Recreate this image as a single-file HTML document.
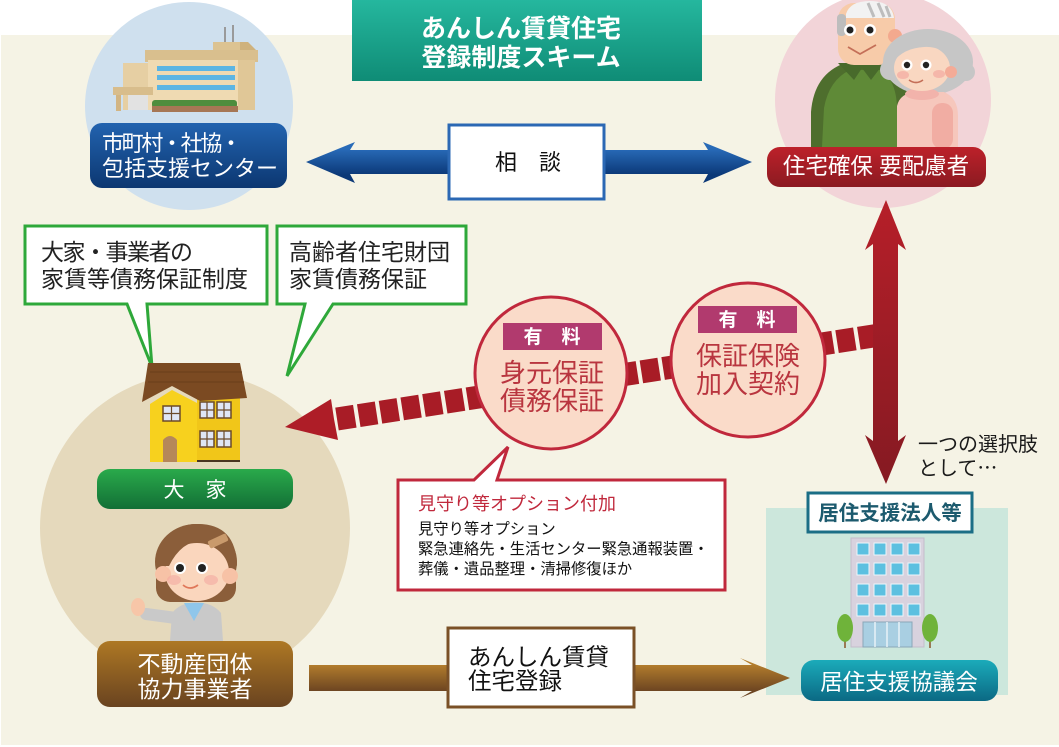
<!DOCTYPE html>
<html><head><meta charset="utf-8">
<style>
html,body{margin:0;padding:0;background:#fff;}
svg{display:block;}
text{font-family:"Liberation Sans","Noto Sans CJK JP",sans-serif;}
</style></head><body>
<svg width="1059" height="747" viewBox="0 0 1059 747" xmlns="http://www.w3.org/2000/svg">
<defs>
 <linearGradient id="gTitle" x1="0" y1="0" x2="0" y2="1"><stop offset="0" stop-color="#25b79e"/><stop offset="1" stop-color="#0f8c76"/></linearGradient>
 <linearGradient id="gBlue" x1="0" y1="0" x2="0" y2="1"><stop offset="0" stop-color="#2263af"/><stop offset="1" stop-color="#0c3771"/></linearGradient>
 <linearGradient id="gRed" x1="0" y1="0" x2="0" y2="1"><stop offset="0" stop-color="#bd212a"/><stop offset="1" stop-color="#8b1a21"/></linearGradient>
 <linearGradient id="gRedV" gradientUnits="userSpaceOnUse" x1="0" y1="200" x2="0" y2="484"><stop offset="0" stop-color="#b61f29"/><stop offset="1" stop-color="#851a22"/></linearGradient>
 <linearGradient id="gGreen" x1="0" y1="0" x2="0" y2="1"><stop offset="0" stop-color="#2aaa4b"/><stop offset="1" stop-color="#126f36"/></linearGradient>
 <linearGradient id="gBrown" x1="0" y1="0" x2="0" y2="1"><stop offset="0" stop-color="#ae7824"/><stop offset="1" stop-color="#694320"/></linearGradient>
 <linearGradient id="gTeal" x1="0" y1="0" x2="0" y2="1"><stop offset="0" stop-color="#1babba"/><stop offset="1" stop-color="#0b6984"/></linearGradient>
 <linearGradient id="gBrownArrow" gradientUnits="userSpaceOnUse" x1="0" y1="664" x2="0" y2="692"><stop offset="0" stop-color="#b47e2d"/><stop offset="1" stop-color="#6a4321"/></linearGradient>
 <linearGradient id="gBlueArrow" gradientUnits="userSpaceOnUse" x1="0" y1="149" x2="0" y2="175"><stop offset="0" stop-color="#286ab7"/><stop offset="1" stop-color="#0b3877"/></linearGradient>
</defs>

<!-- background -->
<rect x="0" y="0" width="1059" height="747" fill="#ffffff"/>
<rect x="1" y="35" width="1058" height="710" fill="#f5f3e5"/>

<!-- top-left blue circle + building -->
<circle cx="189" cy="106" r="104" fill="#cfe0ee"/>
<line x1="225" y1="27" x2="225" y2="43" stroke="#9a9a9a" stroke-width="2"/>
<line x1="233" y1="25" x2="233" y2="43" stroke="#9a9a9a" stroke-width="2"/>
<rect x="213" y="42" width="32" height="20" fill="#dcc392"/>
<polygon points="240,42 248,42 258,52 258,62 240,62" fill="#cfb27d"/>
<rect x="145" y="50" width="113" height="12" fill="#d9bf8e"/>
<rect x="148" y="60" width="92" height="50" fill="#efdab2"/>
<rect x="238" y="60" width="17" height="50" fill="#e0c797"/>
<rect x="157" y="66" width="78" height="5" fill="#5cb5e3"/>
<rect x="157" y="75" width="78" height="5" fill="#5cb5e3"/>
<rect x="157" y="85" width="78" height="5" fill="#5cb5e3"/>
<rect x="123" y="63" width="25" height="47" fill="#e6cfa3"/>
<rect x="113" y="87" width="40" height="8" fill="#d8bd8c"/>
<rect x="116" y="95" width="5" height="16" fill="#d2b583"/>
<rect x="128" y="95" width="20" height="15" fill="#e2e2e2"/>
<rect x="152" y="100" width="85" height="8" rx="3" fill="#4e8d3d"/>
<rect x="152" y="106" width="86" height="6" fill="#a67755"/>

<!-- blue label -->
<rect x="90" y="123" width="197" height="65" rx="12" fill="url(#gBlue)"/>
<text x="102" y="151" font-size="22" fill="#fff" textLength="140" lengthAdjust="spacing">市町村・社協・</text>
<text x="102" y="176" font-size="22" fill="#fff">包括支援センター</text>

<!-- blue double arrow -->
<polygon points="306,162 355,142 350,150 708,150 703,142 752,162 703,183 708,174 350,174 355,183" fill="url(#gBlueArrow)"/>
<rect x="449" y="125" width="155" height="74" fill="#fff" stroke="#2b68b4" stroke-width="3"/>
<text x="528" y="170" font-size="22" fill="#111" text-anchor="middle">相　談</text>

<!-- title -->
<rect x="352" y="0" width="350" height="81" fill="url(#gTitle)"/>
<text x="521" y="37" font-size="25" font-weight="bold" fill="#fff" text-anchor="middle">あんしん賃貸住宅</text>
<text x="521" y="66" font-size="25" font-weight="bold" fill="#fff" text-anchor="middle">登録制度スキーム</text>

<!-- top-right pink circle + couple -->
<circle cx="883" cy="100" r="108" fill="#f2d4d8"/>
<!-- man body -->
<path d="M811,147 L811,112 Q814,74 845,63 L882,62 Q906,70 908,100 L908,147 Z" fill="#4e6e2d"/>
<path d="M822,147 L824,108 Q829,80 850,70 L880,70 Q897,80 897,110 L897,147 Z" fill="#5f8a37"/>
<polygon points="838,63 854,80 862,68 871,80 884,63" fill="#486a2b"/>
<!-- man head -->
<rect x="838" y="3" width="57" height="62" rx="16" fill="#f7cba9"/>
<path d="M846,14 Q850,1 870,1 Q892,1 894,18 L846,18 Z" fill="#f2f2f2"/>
<path d="M868,3 L874,17 M878,3 L884,17 M886,6 L890,17" stroke="#bdbdbd" stroke-width="3"/>
<rect x="837" y="14" width="9" height="22" rx="4" fill="#bdbdbd"/>
<circle cx="895" cy="36" r="7" fill="#f3a98e"/>
<circle cx="850" cy="30" r="6" fill="#fff"/><circle cx="850" cy="30" r="3.5" fill="#222"/>
<circle cx="870" cy="30" r="6" fill="#fff"/><circle cx="870" cy="30" r="3.5" fill="#222"/>
<path d="M848,47 L860,54 L876,45" fill="none" stroke="#c46f58" stroke-width="1.8"/>
<!-- woman -->
<ellipse cx="928" cy="62" rx="45" ry="33" fill="#c6c6c6"/>
<circle cx="890" cy="70" r="10" fill="#c6c6c6"/>
<circle cx="966" cy="72" r="9" fill="#c6c6c6"/>
<path d="M897,147 L897,106 Q900,93 916,92 L944,92 Q958,98 958,116 L958,147 Z" fill="#f6c7bc"/>
<rect x="932" y="103" width="21" height="46" rx="10" fill="#f1ada3"/>
<ellipse cx="922" cy="94" rx="17" ry="6" fill="#f2b3ab"/>
<ellipse cx="922" cy="68" rx="28" ry="23" fill="#f9d7c1"/>
<path d="M893,62 Q897,36 924,35 Q951,36 953,60 Q942,46 924,47 Q904,48 893,62 Z" fill="#c6c6c6"/>
<circle cx="951" cy="72" r="6" fill="#f4ab97"/>
<circle cx="907" cy="65" r="5.5" fill="#fff"/><circle cx="907" cy="65" r="3.2" fill="#222"/>
<circle cx="926" cy="65" r="5.5" fill="#fff"/><circle cx="926" cy="65" r="3.2" fill="#222"/>
<ellipse cx="903" cy="75" rx="6" ry="4" fill="#f3aaa0" opacity="0.7"/>
<ellipse cx="939" cy="74" rx="6" ry="4" fill="#f3aaa0" opacity="0.7"/>
<path d="M909,80 Q916,85 923,80" fill="none" stroke="#c46f58" stroke-width="1.6"/>

<!-- red label -->
<rect x="767" y="147" width="219" height="40" rx="13" fill="url(#gRed)"/>
<text x="876" y="174" font-size="22.5" fill="#fff" text-anchor="middle">住宅確保 要配慮者</text>

<!-- big beige circle (left) -->
<circle cx="195" cy="528" r="155" fill="#e5d9bc"/>

<!-- green callouts -->
<path d="M25,226 H267 V304 H147 L152,367 L127,304 H25 Z" fill="#fff" stroke="#2ea83a" stroke-width="3" stroke-linejoin="miter"/>
<text x="41" y="260" font-size="23" fill="#222" textLength="152" lengthAdjust="spacing">大家・事業者の</text>
<text x="41" y="287" font-size="23" fill="#222">家賃等債務保証制度</text>
<path d="M277,226 H466 V304 H333 L287,376 L305,304 H277 Z" fill="#fff" stroke="#2ea83a" stroke-width="3" stroke-linejoin="miter"/>
<text x="289" y="260" font-size="23" fill="#222">高齢者住宅財団</text>
<text x="289" y="287" font-size="23" fill="#222">家賃債務保証</text>

<!-- house -->
<polygon points="150,404 172,390 197,403 197,462 150,462" fill="#f7d11e"/>
<rect x="197" y="398" width="43" height="64" fill="#f1c619"/>
<polygon points="148,363 240,363 247,398 200,401 172,386 142,402" fill="#7b4a22"/>
<path d="M150,372 H242 M148,382 H244" stroke="#6a3d1b" stroke-width="1"/>
<rect x="163" y="406" width="17" height="15" fill="#dfe6f5" stroke="#6b4a2a" stroke-width="1.5"/>
<path d="M171.5,406 V421 M163,413.5 H180" stroke="#6b4a2a" stroke-width="1.2"/>
<g fill="#dfe6f5" stroke="#6b4a2a" stroke-width="1.5">
<rect x="200" y="402" width="14" height="16"/><rect x="217" y="402" width="14" height="16"/>
<rect x="200" y="431" width="14" height="16"/><rect x="217" y="431" width="14" height="16"/>
</g>
<path d="M207,402 V418 M200,410 H214 M224,402 V418 M217,410 H231 M207,431 V447 M200,439 H214 M224,431 V447 M217,439 H231" stroke="#6b4a2a" stroke-width="1.2"/>
<path d="M163,462 V440 Q170,432 177,440 V462 Z" fill="#b5875a"/>
<line x1="197" y1="461" x2="240" y2="461" stroke="#4a3520" stroke-width="2"/>

<!-- green label 大家 -->
<rect x="97" y="469" width="196" height="40" rx="13" fill="url(#gGreen)"/>
<text x="195" y="497" font-size="21" fill="#fff" text-anchor="middle">大　家</text>

<!-- woman agent -->
<ellipse cx="196" cy="562" rx="41" ry="38" fill="#8b5e3a"/>
<rect x="156" y="560" width="80" height="42" rx="14" fill="#8b5e3a"/>
<path d="M170,641 L172,613 Q180,603 196,602 Q213,603 221,613 L223,641 Z" fill="#c9c9c9"/>
<line x1="176" y1="618" x2="146" y2="614" stroke="#c9c9c9" stroke-width="12" stroke-linecap="round"/>
<ellipse cx="138" cy="607" rx="7" ry="9" fill="#f7c6a8"/>
<polygon points="184,603 194,621 204,603" fill="#8fc6ea"/>
<ellipse cx="197" cy="572" rx="32" ry="29" fill="#fad6bd"/>
<circle cx="163" cy="574" r="8" fill="#f7c2a6"/>
<circle cx="230" cy="576" r="8" fill="#f7c2a6"/>
<path d="M160,566 Q160,524 198,524 Q236,524 237,566 Q226,542 205,539 Q181,541 169,566 Z" fill="#8b5e3a"/>
<rect x="208" y="537" width="20" height="8" rx="2" fill="#c99a6c" transform="rotate(-25 218 541)"/>
<circle cx="180" cy="568" r="6" fill="#fff"/><circle cx="180" cy="568" r="4" fill="#222"/>
<circle cx="202" cy="568" r="6" fill="#fff"/><circle cx="202" cy="568" r="4" fill="#222"/>
<ellipse cx="174" cy="580" rx="7" ry="5" fill="#f4a9a0" opacity="0.6"/>
<ellipse cx="211" cy="580" rx="7" ry="5" fill="#f4a9a0" opacity="0.6"/>
<path d="M183,585 Q190,591 198,585" fill="none" stroke="#e0785a" stroke-width="1.8"/>

<!-- brown label -->
<rect x="97" y="641" width="196" height="66" rx="13" fill="url(#gBrown)"/>
<text x="195" y="672" font-size="23" fill="#fff" text-anchor="middle">不動産団体</text>
<text x="195" y="697" font-size="23" fill="#fff" text-anchor="middle">協力事業者</text>

<!-- red dashed arrow -->
<line x1="337" y1="419" x2="880" y2="335" stroke="#a81c26" stroke-width="23" stroke-dasharray="18 4"/>
<polygon points="285,427 331,399 334,419 338,440" fill="#ae1d27"/>

<!-- vertical red double arrow -->
<polygon points="886,200 906,250 898,244 898,441 906,435 886,484 865,435 873,441 873,244 865,250" fill="url(#gRedV)"/>

<!-- circles -->
<circle cx="551" cy="373" r="76" fill="#fadbc9" stroke="#c0283c" stroke-width="3"/>
<rect x="503" y="323" width="99" height="27" fill="#b13a6e"/>
<text x="552" y="343" font-size="19" font-weight="bold" fill="#fff" text-anchor="middle">有　料</text>
<text x="552" y="382" font-size="26" fill="#b9353f" text-anchor="middle">身元保証</text>
<text x="552" y="410" font-size="26" fill="#b9353f" text-anchor="middle">債務保証</text>

<circle cx="748" cy="360" r="77" fill="#fadbc9" stroke="#c0283c" stroke-width="3"/>
<rect x="698" y="306" width="99" height="27" fill="#b13a6e"/>
<text x="747" y="326" font-size="19" font-weight="bold" fill="#fff" text-anchor="middle">有　料</text>
<text x="748" y="365" font-size="26" fill="#b9353f" text-anchor="middle">保証保険</text>
<text x="748" y="393" font-size="26" fill="#b9353f" text-anchor="middle">加入契約</text>

<!-- red callout -->
<path d="M398,480 H474 L508,447 L497,480 H725 V590 H398 Z" fill="#fff" stroke="#c0283c" stroke-width="3" stroke-linejoin="miter"/>
<text x="418" y="510" font-size="18" fill="#c0283c">見守り等オプション付加</text>
<text x="418" y="534" font-size="15.3" fill="#111">見守り等オプション</text>
<text x="418" y="554" font-size="15.3" fill="#111">緊急連絡先・生活センター緊急通報装置・</text>
<text x="418" y="574" font-size="15.3" fill="#111">葬儀・遺品整理・清掃修復ほか</text>

<!-- 一つの選択肢 -->
<text x="918" y="451" font-size="20" fill="#1a1a1a">一つの選択肢</text>
<text x="918" y="475" font-size="20" fill="#1a1a1a" style="font-family:'Noto Sans CJK JP',sans-serif">として…</text>

<!-- teal area -->
<rect x="766" y="508" width="242" height="187" fill="#cce7dc"/>
<rect x="808" y="493" width="164" height="39" fill="#fff" stroke="#1b6e86" stroke-width="3"/>
<text x="890" y="520" font-size="20.5" font-weight="bold" fill="#1c5a6e" text-anchor="middle">居住支援法人等</text>
<!-- building -->
<rect x="851" y="538" width="73" height="109" fill="#d8d2de" stroke="#c4bccb" stroke-width="1"/>
<g fill="#5cc0e0" stroke="#eef6fb" stroke-width="1">
<rect x="857" y="543" width="12" height="12"/><rect x="874" y="543" width="12" height="12"/><rect x="891" y="543" width="12" height="12"/><rect x="908" y="543" width="12" height="12"/>
<rect x="857" y="563" width="12" height="12"/><rect x="874" y="563" width="12" height="12"/><rect x="891" y="563" width="12" height="12"/><rect x="908" y="563" width="12" height="12"/>
<rect x="857" y="584" width="12" height="12"/><rect x="874" y="584" width="12" height="12"/><rect x="891" y="584" width="12" height="12"/><rect x="908" y="584" width="12" height="12"/>
<rect x="857" y="604" width="12" height="12"/><rect x="874" y="604" width="12" height="12"/><rect x="891" y="604" width="12" height="12"/><rect x="908" y="604" width="12" height="12"/>
</g>
<rect x="863" y="622" width="49" height="25" fill="#a9cfe2" stroke="#8aa7b8" stroke-width="1"/>
<path d="M875,622 V647 M887,622 V647 M899,622 V647" stroke="#e8f2f8" stroke-width="1.5"/>
<line x1="845" y1="630" x2="845" y2="648" stroke="#9a7a55" stroke-width="2"/>
<ellipse cx="845" cy="628" rx="8" ry="14" fill="#6fb33a"/>
<line x1="930" y1="630" x2="930" y2="648" stroke="#9a7a55" stroke-width="2"/>
<ellipse cx="930" cy="628" rx="8" ry="14" fill="#6fb33a"/>

<!-- brown arrow -->
<polygon points="309,665 752,665 740,658 790,678 740,698 752,691 309,691" fill="url(#gBrownArrow)"/>
<rect x="448" y="628" width="186" height="79" fill="#fff" stroke="#7a5026" stroke-width="3"/>
<text x="468" y="665" font-size="23.5" fill="#111">あんしん賃貸</text>
<text x="468" y="689" font-size="23.5" fill="#111">住宅登録</text>

<!-- teal label -->
<rect x="801" y="660" width="197" height="41" rx="13" fill="url(#gTeal)"/>
<text x="899" y="690" font-size="22.5" fill="#fff" text-anchor="middle">居住支援協議会</text>
</svg>
</body></html>
